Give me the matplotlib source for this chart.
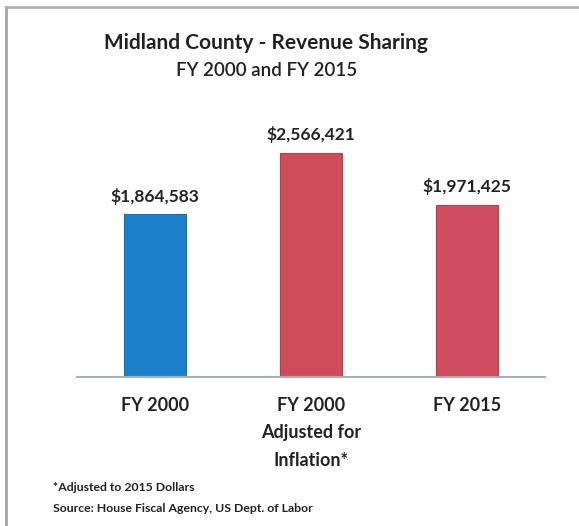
import matplotlib.pyplot as plt
from matplotlib.lines import Line2D

plt.rcParams['font.family'] = ['Lato', 'DejaVu Sans']

categories = ['FY 2000', 'FY 2000\nAdjusted for\nInflation*', 'FY 2015']
values = [1864583, 2566421, 1971425]
colors = ['#1c80cc', '#cf4d5a', '#cf4d5e']

fig = plt.figure(figsize=(5.79, 5.26), dpi=100)
ax = fig.add_axes([0.133, 0.283, 0.808, 0.498])

bars = ax.bar(range(len(values)), values, width=0.40, color=colors,
              edgecolor=['#1a6fb0', '#b8404c', '#b8404c'], linewidth=0.8)
for b, v in zip(bars, values):
    ax.text(b.get_x() + b.get_width() / 2, v + 110000, '${:,}'.format(v),
            ha='center', va='bottom', fontsize=12.5, fontweight='bold', color='#222222')

ax.set_xlim(-0.5, 2.5)
ax.set_ylim(0, 3000000)
ax.set_yticks([])
ax.set_xticks(range(len(categories)))
ax.set_xticklabels(categories, fontsize=13, fontweight='bold', color='#222222',
                   linespacing=1.75)
ax.tick_params(axis='x', length=0, pad=14)
for s in ['top', 'right', 'left']:
    ax.spines[s].set_visible(False)
ax.spines['bottom'].set_color('#a8b0bc')
ax.spines['bottom'].set_linewidth(1.5)

fig.text(0.46, 0.918, 'Midland County - Revenue Sharing', ha='center', va='center',
         fontsize=15, fontweight='bold', color='#222222')
fig.text(0.46, 0.866, 'FY 2000 and FY 2015', ha='center', va='center',
         fontsize=13.5, fontweight='semibold', color='#222222')

fig.text(0.092, 0.074, '*Adjusted to 2015 Dollars', ha='left', va='center',
         fontsize=8.8, fontweight='bold', color='#222222')
fig.text(0.092, 0.034, 'Source: House Fiscal Agency, US Dept. of Labor', ha='left',
         va='center', fontsize=8.8, fontweight='bold', color='#222222')

# scanned frame edges
fig.add_artist(Line2D([0.011, 0.011], [0.0, 0.986], color='#a5a5a5', lw=2))
fig.add_artist(Line2D([0.011, 1.0], [0.986, 0.986], color='#b0b0b0', lw=2))

fig.savefig('out.png', dpi=100)
